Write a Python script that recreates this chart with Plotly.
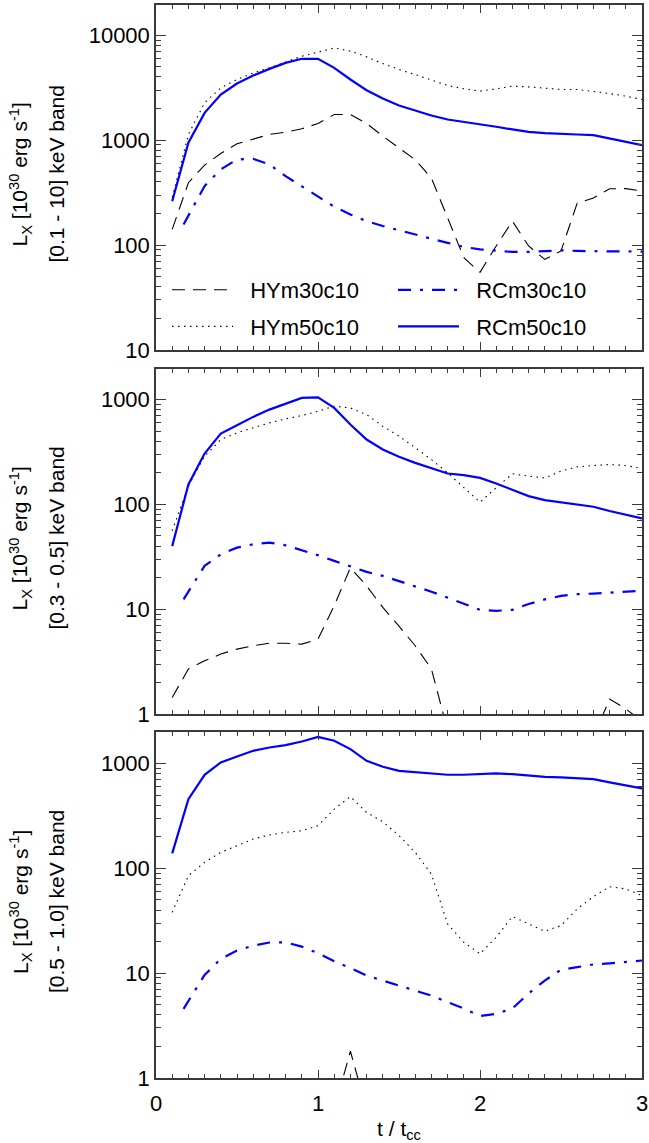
import plotly.graph_objects as go

# ---------------- data ----------------
t = [round(0.1 * i, 1) for i in range(1, 31)]
t_rc30 = [0.17] + [round(0.1 * i, 1) for i in range(3, 31)]

# Panel 1: [0.1 - 10] keV
hy30_a = [141, 393, 578, 746, 923, 1030, 1133, 1191, 1282, 1442,
          1755, 1755, 1442, 1092, 845, 650, 435, 182, 76, 55,
          98, 169, 98, 73, 88, 251, 281, 344, 345, 327]
hy50_a = [285, 1133, 2270, 3150, 3785, 4380, 4890, 5570, 6310, 6890,
          7570, 7050, 6220, 5370, 4710, 4220, 3725, 3320, 3085, 2930,
          3085, 3268, 3220, 3105, 3040, 3040, 2930, 2780, 2625, 2440]
rc30_a = [157, 365, 526, 655, 664, 586, 454, 365, 293, 232,
          196, 169, 152, 138, 127, 115, 105, 96, 91, 88,
          86, 86, 87, 89, 88, 87, 87, 87, 86.5]
rc50_a = [262, 944, 1820, 2720, 3467, 4130, 4780, 5450, 5960, 5960,
          4890, 3785, 2993, 2494, 2138, 1917, 1719, 1574, 1496, 1432,
          1341, 1265, 1200, 1166, 1157, 1132, 1116, 1038, 964, 896]

# Panel 2: [0.3 - 0.5] keV
hy30_b = [1.44, 2.69, 3.22, 3.73, 4.16, 4.48, 4.74, 4.74, 4.64, 5.18,
          10.8, 24.9, 16.7, 10.4, 6.9, 4.48, 2.69, 0.7, 0.4, 0.3,
          0.3, 0.35, 0.4, 0.4, 0.45, 0.5, 0.6, 1.39, 1.12, 0.85]
hy50_b = [56, 150, 288, 416, 482, 537, 600, 655, 705, 774,
          865, 833, 720, 557, 448, 347, 268, 200, 144, 105,
          144, 196, 186, 179, 208, 228, 235, 240, 235, 220]
rc30_b = [12.4, 25.9, 33.4, 38.7, 41.6, 43.2, 40.7, 36.7, 32.7, 28.9,
          25.5, 22.7, 20.8, 18.6, 16.7, 14.7, 12.9, 11.2, 9.87, 9.64,
          9.87, 11.2, 12.4, 13.4, 13.9, 14.1, 14.4, 14.7, 15.0]
rc50_b = [40, 155, 306, 474, 570, 684, 803, 916, 1037, 1052,
          833, 578, 416, 334, 285, 249, 220, 197, 190, 179,
          158, 137, 120, 110, 105, 100, 95, 86.5, 80, 73.6]

# Panel 3: [0.5 - 1.0] keV
hy30_c = [0.05, 0.08, 0.1, 0.12, 0.15, 0.18, 0.2, 0.25, 0.3, 0.4,
          0.5, 1.8, 0.5, 0.3, 0.2, 0.15, 0.1, 0.08, 0.06, 0.05,
          0.05, 0.06, 0.06, 0.05, 0.05, 0.06, 0.07, 0.08, 0.08, 0.07]
hy50_c = [38, 85, 114, 142, 164, 190, 208, 220, 228, 255,
          367, 482, 341, 278, 205, 142, 88, 29.5, 19.7, 15.3,
          22, 34.7, 29.5, 25.1, 28.4, 41, 53.7, 66.8, 63.5, 55]
rc30_c = [4.57, 9.6, 13.7, 16.4, 18.3, 19.6, 19.7, 17.9, 15.5, 13.0,
          11.2, 9.5, 8.5, 7.6, 6.8, 6.1, 5.3, 4.6, 3.9, 4.1,
          4.6, 6.4, 8.5, 10.8, 11.4, 12.1, 12.4, 12.8, 13.2]
rc50_c = [139, 457, 780, 1022, 1166, 1320, 1420, 1495, 1620, 1795,
          1645, 1370, 1060, 930, 851, 826, 803, 780, 780, 798,
          803, 790, 763, 746, 736, 720, 709, 659, 613, 578]

series_names = ["HYm30c10", "HYm50c10", "RCm30c10", "RCm50c10"]
band_labels = ["[0.1 - 10] keV band", "[0.3 - 0.5] keV band", "[0.5 - 1.0] keV band"]
ytick_vals = [[10, 100, 1000, 10000], [1, 10, 100, 1000], [1, 10, 100, 1000]]
ytick_text = [["10", "100", "1000", "10000"], ["1", "10", "100", "1000"], ["1", "10", "100", "1000"]]
y_ranges = [[1.0, 4.288], [0.0, 3.292], [0.0, 3.3]]
xtick_vals = [0, 1, 2, 3]
xtick_text = ["0", "1", "2", "3"]

panels = [
    (hy30_a, hy50_a, rc30_a, rc50_a),
    (hy30_b, hy50_b, rc30_b, rc50_b),
    (hy30_c, hy50_c, rc30_c, rc50_c),
]

# ---------------- styling ----------------
FONT = "Liberation Sans, Arial, Helvetica, sans-serif"
W, H = 649, 1143
ML, MR, MT, MB = 156, 7, 5, 65
PW = W - ML - MR
PH = H - MT - MB
panel_px = [(5, 350), (369, 714), (732, 1078)]


def py(pix):
    return (H - MB - pix) / PH


def px(pix):
    return (pix - ML) / PW


styles = [
    dict(color="black", width=1.1, dash="13px,8px"),
    dict(color="black", width=1.1, dash="1.5px,4.5px"),
    dict(color="#0000ff", width=2.2, dash="13px,9px,3px,9px"),
    dict(color="#0000ff", width=2.2, dash="solid"),
]
legend_of = ["legend", "legend", "legend2", "legend2"]
NB = "\u00a0\u00a0"

fig = go.Figure()
for p, data in enumerate(panels):
    for k in range(4):
        xs = t_rc30 if k == 2 else t
        fig.add_trace(go.Scatter(
            x=xs, y=data[k], mode="lines", line=styles[k],
            name=NB + series_names[k], legend=legend_of[k], legendgroup=series_names[k],
            showlegend=(p == 0),
            xaxis="x" if p == 0 else f"x{p + 1}",
            yaxis="y" if p == 0 else f"y{p + 1}",
        ))

AXC = "#3a3a3a"
legend_common = dict(xanchor="left", yanchor="top", bgcolor="rgba(0,0,0,0)", itemwidth=61,
                     traceorder="grouped", tracegroupgap=5,
                     font=dict(size=22, family=FONT), itemclick=False)
layout = dict(
    width=W, height=H,
    margin=dict(l=ML, r=MR, t=MT, b=MB, autoexpand=False),
    paper_bgcolor="white", plot_bgcolor="white",
    font=dict(family=FONT, size=21, color="black"),
    legend=dict(x=px(167), y=py(269), **legend_common),
    legend2=dict(x=px(393), y=py(269), **legend_common),
    showlegend=True,
)

annotations = []
for p in range(3):
    top, bot = panel_px[p]
    suffix = "" if p == 0 else str(p + 1)
    xa = dict(
        domain=[0, 1], range=[0, 3], anchor="y" + suffix,
        showline=True, linecolor=AXC, linewidth=1.5, mirror="allticks",
        ticks="inside", ticklen=8, tickwidth=1.2, tickcolor=AXC,
        tickvals=xtick_vals, ticktext=xtick_text,
        showticklabels=(p == 2), ticklabelstandoff=5,
        tickfont=dict(size=22, family=FONT, color="black"),
        minor=dict(ticks="inside", ticklen=4, tickwidth=1.1, tickcolor=AXC, dtick=0.1, showgrid=False),
        showgrid=False, zeroline=False,
    )
    if p != 0:
        xa["matches"] = "x"
    if p == 2:
        xa["title"] = dict(text="t / t<sub>cc</sub>", font=dict(size=21, family=FONT), standoff=8)
    ya = dict(
        type="log", domain=[py(bot), py(top)], range=y_ranges[p], anchor="x" + suffix,
        showline=True, linecolor=AXC, linewidth=1.5, mirror="allticks",
        ticks="inside", ticklen=10, tickwidth=1.2, tickcolor=AXC,
        tickvals=ytick_vals[p], ticktext=ytick_text[p], ticklabelstandoff=0,
        tickfont=dict(size=22, family=FONT, color="black"),
        minor=dict(ticks="inside", ticklen=5, tickwidth=1.1, tickcolor=AXC, dtick="D1", showgrid=False),
        showgrid=False, zeroline=False,
    )
    layout["xaxis" + suffix] = xa
    layout["yaxis" + suffix] = ya
    yc = (top + bot) / 2 - 3
    annotations.append(dict(
        text="L<sub>X</sub> [10<sup>30</sup> erg s<sup>-1</sup>]",
        xref="paper", yref="paper", x=px(20), y=py(yc), xanchor="center", yanchor="middle",
        textangle=-90, showarrow=False, font=dict(size=21, family=FONT)))
    annotations.append(dict(
        text=band_labels[p],
        xref="paper", yref="paper", x=px(56), y=py(yc), xanchor="center", yanchor="middle",
        textangle=-90, showarrow=False, font=dict(size=21, family=FONT)))

layout["annotations"] = annotations
fig.update_layout(**layout)
fig.write_html("out.html", config={"displayModeBar": False},
               post_script="document.body.style.margin='0px';document.body.style.overflow='hidden';")
